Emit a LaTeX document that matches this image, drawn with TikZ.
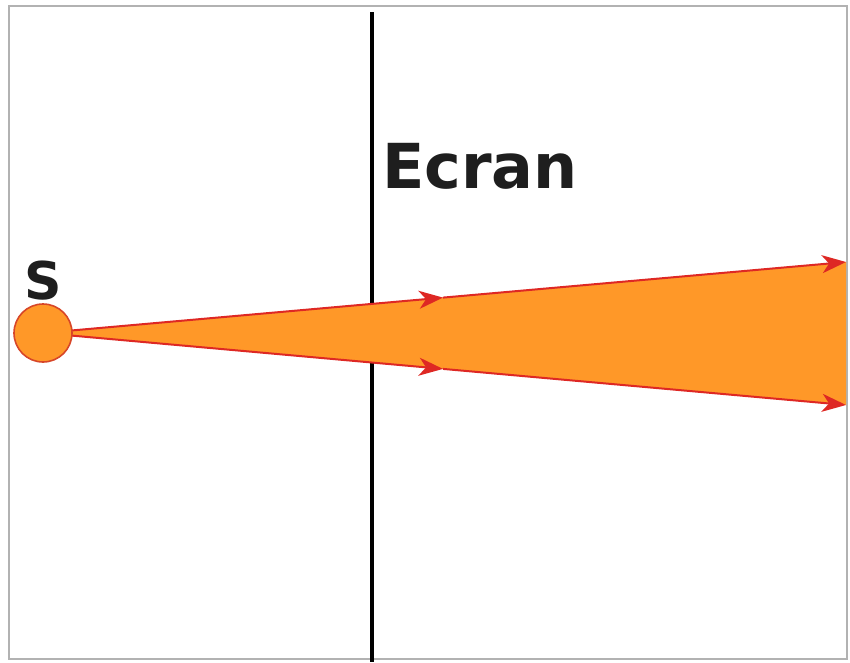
\documentclass[tikz,border=0pt]{standalone}
\usepackage{fontspec}
\setmainfont{DejaVu Sans}
\usetikzlibrary{arrows.meta}
\definecolor{conefill}{RGB}{255,152,40}
\definecolor{rayred}{RGB}{222,40,36}
\definecolor{srcedge}{RGB}{215,70,40}
\definecolor{txt}{RGB}{30,30,30}
\tikzset{
  frame/.style={draw=gray!60, line width=1.4pt},
  screenline/.style={draw=black, line width=3.6pt},
  cone/.style={fill=conefill},
  ray/.style={draw=rayred, line width=2pt, -{Stealth[length=24pt,width=18pt,inset=7pt]}},
  source/.style={circle, fill=conefill, draw=srcedge, line width=1.6pt, minimum size=58pt, inner sep=0pt},
  lbl/.style={inner sep=0pt, text=txt, font=\bfseries},
}
\begin{document}
\begin{tikzpicture}[x=1pt,y=-1pt]
\useasboundingbox (0,0) rectangle (850,662);
\draw[frame] (9,6) rectangle (847,659);
\coordinate (scrTop) at (372,12);
\coordinate (scrBot) at (372,662);
\draw[screenline] (scrTop) -- (scrBot);
\coordinate (apex) at (43,333);
\coordinate (endA) at (846,262);
\coordinate (endB) at (846,405);
\coordinate (midA) at (443,297.6);
\coordinate (midB) at (443,368.9);
\fill[cone] (apex) -- (endA) -- (endB) -- cycle;
\draw[ray] (apex) -- (midA);
\draw[ray] (midA) -- (endA);
\draw[ray] (apex) -- (midB);
\draw[ray] (midB) -- (endB);
\node[source] (src) at (apex) {};
\node[lbl, font=\fontsize{52}{52}\selectfont\bfseries] (slabel) at (43,281) {S};
\node[lbl, font=\fontsize{62}{62}\selectfont\bfseries] (ecran) at (480,166.5) {Ecran};
\end{tikzpicture}
\end{document}
